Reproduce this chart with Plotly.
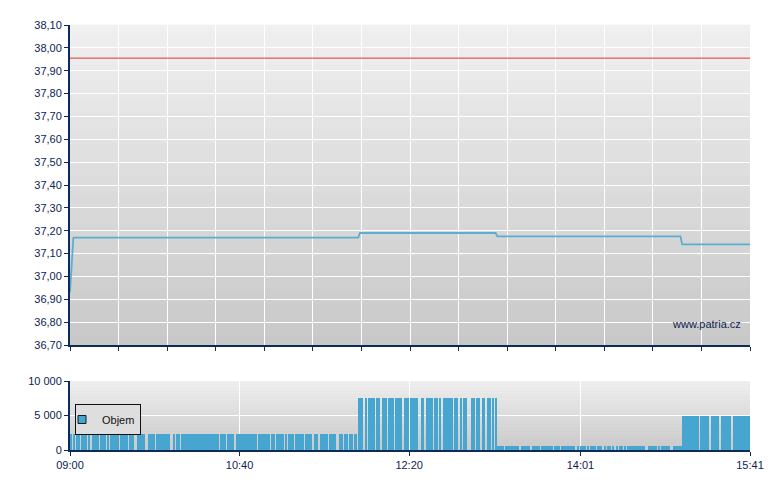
import plotly.graph_objects as go

# ---------------- data ----------------
price_times = ["09:00", "09:02", "11:50", "11:51", "13:11", "13:12", "15:00", "15:01", "15:41"]
price_values = [36.93, 37.17, 37.17, 37.19, 37.19, 37.175, 37.175, 37.14, 37.14]
prev_close = 37.955

vol_seg_start = ["09:00", "11:50", "13:12", "15:01"]
vol_seg_end = ["11:48", "13:11", "15:00", "15:40"]
vol_seg_level = [2300, 7500, 600, 4900]
# minutes (offset from 09:00) without any trade volume
gap_minutes = [1, 3, 6, 10, 12, 17, 21, 23, 29, 34, 38, 39, 44, 45, 50, 59, 60, 62, 65,
               88, 92, 97, 110, 118, 121, 126, 128, 132, 138, 143, 146, 147, 152, 157, 158,
               161, 164, 167,
               173, 175, 180, 183, 187, 191, 196, 200, 205, 206, 209, 214, 217, 219, 226,
               229, 231, 234, 235, 236, 239, 242, 245, 248, 250,
               256, 265, 271, 272, 277, 285, 289, 298, 300, 304, 306, 310, 314, 316, 319,
               321, 323, 326, 328, 339, 340, 346, 348, 354, 355,
               371, 377, 383, 390]

x_tick_labels = ["09:00", "10:40", "12:20", "14:01", "15:41"]
session_start = "09:00"
session_end = "15:41"


def to_min(t):
    h, m = t.split(":")
    return (int(h) - 9) * 60 + int(m)


# build per-minute volume bars
vol_x, vol_y = [], []
for s, e, lvl in zip(vol_seg_start, vol_seg_end, vol_seg_level):
    for m in range(to_min(s), to_min(e) + 1):
        if m not in gap_minutes:
            vol_x.append(m + 0.5)
            vol_y.append(lvl)

x0, x1 = to_min(session_start), to_min(session_end)

NAVY = "#0c2a5a"
TXT = "#0d2452"
BLUE = "#46a6cf"
FONT = "Liberation Sans, Arial, sans-serif"

fig = go.Figure()

fig.add_trace(go.Scatter(
    x=[x0, x1], y=[prev_close, prev_close], mode="lines",
    line=dict(color="#e8322e", width=1), showlegend=False, hoverinfo="skip",
    xaxis="x", yaxis="y"))

fig.add_trace(go.Scatter(
    x=[to_min(t) for t in price_times], y=price_values, mode="lines",
    line=dict(color="#5aaed2", width=1.8), showlegend=False,
    xaxis="x", yaxis="y"))

fig.add_trace(go.Bar(
    x=vol_x, y=vol_y, width=1, marker=dict(color=BLUE, line=dict(width=0)),
    showlegend=False, xaxis="x2", yaxis="y2"))

# legend entry
fig.add_trace(go.Scatter(
    x=[None], y=[None], mode="markers", name="Objem",
    marker=dict(symbol="square", size=8, color=BLUE, line=dict(color="#1a1a1a", width=1)),
    xaxis="x2", yaxis="y2"))

# background gradients
shapes = []
n = 40
top_c = (240, 240, 240)
bot_c = (200, 200, 200)
for xr, yr in (("x domain", "y domain"), ("x2 domain", "y2 domain")):
    for i in range(n):
        f = (i + 0.5) / n
        c = tuple(round(top_c[k] + (bot_c[k] - top_c[k]) * f) for k in range(3))
        shapes.append(dict(type="rect", xref=xr, yref=yr, x0=0, x1=1,
                           y0=1 - (i + 1) / n, y1=1 - i / n + 0.001,
                           fillcolor="rgb(%d,%d,%d)" % c, line=dict(width=0),
                           layer="below"))

axis_common = dict(showline=True, linecolor=NAVY, linewidth=2, ticks="outside",
                   tickcolor=NAVY, ticklen=4, tickwidth=1, gridcolor="white",
                   gridwidth=1, zeroline=False,
                   tickfont=dict(family=FONT, size=11, color=TXT))

fig.update_layout(
    width=780, height=490,
    margin=dict(l=62, r=38, t=17, b=48),
    paper_bgcolor="white", plot_bgcolor="rgb(220,220,220)",
    separators=", ",
    bargap=0,
    shapes=shapes,
    xaxis=dict(axis_common, domain=[0, 1], anchor="y", range=[x0, x1],
               tick0=x0, dtick=(x1 - x0) / 14, showticklabels=False, showgrid=True),
    yaxis=dict(axis_common, domain=[105 / 425, 1], anchor="x", range=[36.7, 38.1],
               dtick=0.1, tickformat=".2f", showgrid=True),
    xaxis2=dict(axis_common, domain=[0, 1], anchor="y2", range=[x0, x1],
                tickvals=[to_min(t) for t in x_tick_labels], ticktext=x_tick_labels,
                showgrid=True),
    yaxis2=dict(axis_common, domain=[0, 69 / 425], anchor="x2", range=[0, 10000],
                dtick=5000, tickformat=",", showgrid=True),
    legend=dict(x=5 / 680, y=46 / 425, xanchor="left", yanchor="top",
                bgcolor="rgba(222,222,222,1)", bordercolor="#111111", borderwidth=1,
                font=dict(family=FONT, size=11, color="#111111"),
                itemwidth=30, indentation=-14),
    annotations=[dict(text="www.patria.cz", xref="paper", yref="paper",
                      x=673 / 680, y=126 / 425, xanchor="right", yanchor="middle",
                      showarrow=False, font=dict(family=FONT, size=11, color=TXT))],
)

fig.write_html("out.html")
